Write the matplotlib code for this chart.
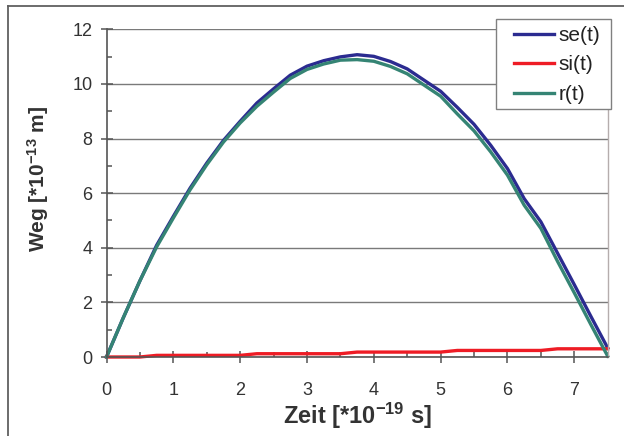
import matplotlib
matplotlib.use('Agg')
import matplotlib.pyplot as plt
from matplotlib.lines import Line2D
from matplotlib.patches import Rectangle
from matplotlib.ticker import MultipleLocator

# Data (t in 1e-19 s, distances in 1e-13 m).
zeit = [0.0, 0.25, 0.5, 0.75, 1.0, 1.25, 1.5, 1.75, 2.0, 2.25, 2.5, 2.75,
        3.0, 3.25, 3.5, 3.75, 4.0, 4.25, 4.5, 4.75, 5.0, 5.25, 5.5, 5.75,
        6.0, 6.25, 6.5, 6.75, 7.0, 7.25, 7.5]
se = [0.0, 1.43, 2.79, 4.09, 5.15, 6.18, 7.10, 7.93, 8.63, 9.30, 9.82, 10.32,
      10.65, 10.85, 10.99, 11.07, 11.01, 10.82, 10.55, 10.14, 9.73, 9.14, 8.52, 7.75,
      6.90, 5.80, 4.95, 3.80, 2.65, 1.48, 0.33]
si = [0.0, 0.0, 0.0, 0.06, 0.06, 0.06, 0.06, 0.06, 0.06, 0.12, 0.12, 0.12,
      0.12, 0.12, 0.12, 0.18, 0.18, 0.18, 0.18, 0.18, 0.18, 0.24, 0.24, 0.24,
      0.24, 0.24, 0.24, 0.30, 0.30, 0.30, 0.30]
r = [0.0, 1.43, 2.79, 4.03, 5.09, 6.12, 7.04, 7.87, 8.57, 9.18, 9.70, 10.20,
     10.53, 10.73, 10.87, 10.89, 10.83, 10.64, 10.37, 9.96, 9.55, 8.90, 8.28, 7.51,
     6.66, 5.56, 4.71, 3.50, 2.35, 1.18, 0.03]

series_labels = ['se(t)', 'si(t)', 'r(t)']
series_colors = ['#2b2b90', '#ee1c25', '#358474']

plt.rcParams['font.family'] = ['Liberation Sans', 'DejaVu Sans']
plt.rcParams['mathtext.default'] = 'regular'

W, H = 624, 436


def fx(px):
    return px / W


def fy(py):
    return 1 - py / H


def setup_plot():
    fig = plt.figure(figsize=(W / 100, H / 100), dpi=100)
    left, right, bottom, top = 106.5, 607.7, 357.0, 29.3
    ax = fig.add_axes([fx(left), fy(bottom), (right - left) / W, (bottom - top) / H])
    return fig, ax


def draw_frame(fig):
    # Outer chart border (cut off at right and bottom).
    fig.add_artist(Line2D([fx(8), 1], [fy(6.5)] * 2, transform=fig.transFigure,
                          color='#606060', lw=1.3))
    fig.add_artist(Line2D([fx(8.3)] * 2, [0, fy(6.5)], transform=fig.transFigure,
                          color='#606060', lw=1.3))


def style_axes(ax):
    ax.set_xlim(0, 7.5)
    ax.set_ylim(0, 12)
    ax.xaxis.set_major_locator(MultipleLocator(1))
    ax.xaxis.set_minor_locator(MultipleLocator(0.5))
    ax.yaxis.set_major_locator(MultipleLocator(2))
    ax.yaxis.set_minor_locator(MultipleLocator(1))

    ax.grid(axis='y', which='major', color='#7a7a7a', lw=1.0)
    ax.set_axisbelow(True)

    ax.spines['top'].set_visible(False)
    ax.spines['right'].set_color('#b5adad')
    ax.spines['right'].set_linewidth(1.0)
    for side in ('left', 'bottom'):
        ax.spines[side].set_color('#555555')
        ax.spines[side].set_linewidth(1.2)

    ax.tick_params(which='major', direction='inout', length=8, width=1.1,
                   color='#555555', labelsize=13, labelcolor='#333333')
    ax.tick_params(which='minor', direction='in', length=3.5, width=1.1, color='#555555')
    ax.tick_params(axis='x', pad=14)
    ax.tick_params(axis='y', pad=6)

    ax.set_xlabel('Zeit [*10$^{-19}$ s]', fontsize=17, fontweight='bold',
                  color='#333333', va='baseline')
    ax.xaxis.set_label_coords(0.5, (357 - 424) / 327.7)
    ax.set_ylabel('Weg [*10$^{-13}$ m]', fontsize=15, fontweight='bold',
                  color='#333333', va='baseline')
    ax.yaxis.set_label_coords((45 - 106.5) / 501.2, (357 - 179) / 327.7)


# Prepare plot.
fig, ax = setup_plot()
draw_frame(fig)
style_axes(ax)

# Add series.
handles = []
for values, label, color in zip([se, si, r], series_labels, series_colors):
    line, = ax.plot(zeit, values, color=color, lw=2.4, label=label, clip_on=False)
    handles.append(line)

# Legend box (pokes above the plot area like in the original).
ax.add_patch(Rectangle((fx(495.7), fy(109)), fx(611) - fx(495.7), fy(19.3) - fy(109),
                       transform=fig.transFigure, facecolor='white', edgecolor='#808080',
                       lw=1.0, clip_on=False, zorder=4))
fs = 15
fs_px = fs * 100 / 72
leg = ax.legend(
    handles=handles,
    loc='upper left',
    bbox_to_anchor=(fx(513.5), fy(26)),
    bbox_transform=fig.transFigure,
    borderaxespad=0,
    borderpad=0,
    fontsize=fs,
    frameon=False,
    labelspacing=0.5,
    handlelength=40 / fs_px,
    handletextpad=5 / fs_px,
)
leg.set_zorder(5)
for txt in leg.get_texts():
    txt.set_color('#222222')

# Save image file.
fig.savefig('out.png', dpi=100, facecolor='white')
plt.close(fig)
